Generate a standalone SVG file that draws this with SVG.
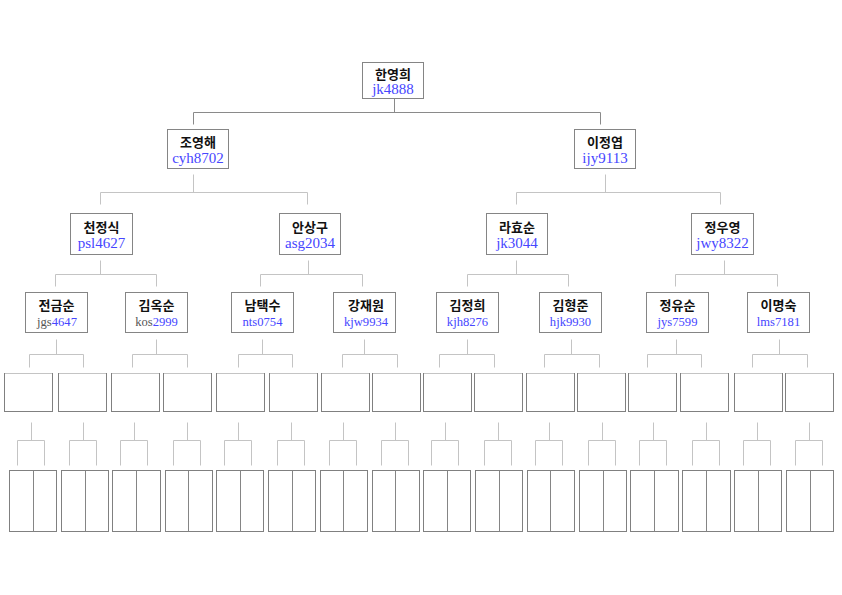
<svg xmlns="http://www.w3.org/2000/svg" width="842" height="595" viewBox="0 0 842 595">
<style>
.bg{fill:#ffffff}
.box{fill:#ffffff;stroke:#858585;stroke-width:1}
.ebox{fill:#ffffff;stroke:#808080;stroke-width:1}
.etop{stroke:#c4c4c4;stroke-width:1}
.div{stroke:#858585;stroke-width:1}
.c1{fill:none;stroke:#8a8a8a;stroke-width:1}
.c2{fill:none;stroke:#c4c4c4;stroke-width:1}
.nm{font-family:"Noto Sans CJK KR","Noto Sans",sans-serif;font-weight:bold;font-size:13px;fill:#111111;text-anchor:middle}
.id{font-family:"Liberation Serif","Times New Roman",serif;font-size:15px;fill:#4646ff;text-anchor:middle}
.id4{font-family:"Liberation Serif","Times New Roman",serif;font-size:12.6px;fill:#4646ff;text-anchor:middle}
.gr{fill:#555555}
</style>
<rect class="bg" x="0" y="0" width="842" height="595"/>
<g id="connectors">
<path class="c1" d="M394.5 98.5V112.5M193.5 112.5H600.5M193.5 112.5V124.5M600.5 112.5V124.5"/>
<path class="c2" d="M193.5 174.5V192.5M100.5 192.5H307.5M100.5 192.5V204.5M307.5 192.5V204.5"/>
<path class="c2" d="M605.5 174.5V192.5M516.5 192.5H720.5M516.5 192.5V204.5M720.5 192.5V204.5"/>
<path class="c2" d="M100.5 260.5V274.5M55.5 274.5H156.5M55.5 274.5V286.5M156.5 274.5V286.5"/>
<path class="c2" d="M308.5 260.5V274.5M260.5 274.5H362.5M260.5 274.5V286.5M362.5 274.5V286.5"/>
<path class="c2" d="M516.5 260.5V274.5M467.5 274.5H568.5M467.5 274.5V286.5M568.5 274.5V286.5"/>
<path class="c2" d="M724.5 260.5V274.5M675.5 274.5H777.5M675.5 274.5V286.5M777.5 274.5V286.5"/>
<path class="c2" d="M56.5 339.5V354.5M29.5 354.5H83.5M29.5 354.5V367.5M83.5 354.5V367.5"/>
<path class="c2" d="M156.5 339.5V354.5M132.5 354.5H187.5M132.5 354.5V367.5M187.5 354.5V367.5"/>
<path class="c2" d="M262.5 339.5V354.5M238.5 354.5H292.5M238.5 354.5V367.5M292.5 354.5V367.5"/>
<path class="c2" d="M364.5 339.5V354.5M342.5 354.5H397.5M342.5 354.5V367.5M397.5 354.5V367.5"/>
<path class="c2" d="M467.5 339.5V354.5M439.5 354.5H494.5M439.5 354.5V367.5M494.5 354.5V367.5"/>
<path class="c2" d="M571.5 339.5V354.5M544.5 354.5H599.5M544.5 354.5V367.5M599.5 354.5V367.5"/>
<path class="c2" d="M676.5 339.5V354.5M647.5 354.5H701.5M647.5 354.5V367.5M701.5 354.5V367.5"/>
<path class="c2" d="M779.5 339.5V354.5M752.5 354.5H807.5M752.5 354.5V367.5M807.5 354.5V367.5"/>
<path class="c2" d="M31.5 422.5V440.5M17.5 440.5H44.5M17.5 440.5V465.5M44.5 440.5V465.5"/>
<path class="c2" d="M83.5 422.5V440.5M69.5 440.5H96.5M69.5 440.5V465.5M96.5 440.5V465.5"/>
<path class="c2" d="M134.5 422.5V440.5M120.5 440.5H147.5M120.5 440.5V465.5M147.5 440.5V465.5"/>
<path class="c2" d="M187.5 422.5V440.5M173.5 440.5H200.5M173.5 440.5V465.5M200.5 440.5V465.5"/>
<path class="c2" d="M238.5 422.5V440.5M224.5 440.5H251.5M224.5 440.5V465.5M251.5 440.5V465.5"/>
<path class="c2" d="M291.5 422.5V440.5M277.5 440.5H304.5M277.5 440.5V465.5M304.5 440.5V465.5"/>
<path class="c2" d="M343.5 422.5V440.5M329.5 440.5H356.5M329.5 440.5V465.5M356.5 440.5V465.5"/>
<path class="c2" d="M395.5 422.5V440.5M381.5 440.5H408.5M381.5 440.5V465.5M408.5 440.5V465.5"/>
<path class="c2" d="M445.5 422.5V440.5M431.5 440.5H458.5M431.5 440.5V465.5M458.5 440.5V465.5"/>
<path class="c2" d="M498.5 422.5V440.5M484.5 440.5H511.5M484.5 440.5V465.5M511.5 440.5V465.5"/>
<path class="c2" d="M549.5 422.5V440.5M535.5 440.5H562.5M535.5 440.5V465.5M562.5 440.5V465.5"/>
<path class="c2" d="M602.5 422.5V440.5M588.5 440.5H615.5M588.5 440.5V465.5M615.5 440.5V465.5"/>
<path class="c2" d="M653.5 422.5V440.5M639.5 440.5H666.5M639.5 440.5V465.5M666.5 440.5V465.5"/>
<path class="c2" d="M706.5 422.5V440.5M692.5 440.5H719.5M692.5 440.5V465.5M719.5 440.5V465.5"/>
<path class="c2" d="M757.5 422.5V440.5M743.5 440.5H770.5M743.5 440.5V465.5M770.5 440.5V465.5"/>
<path class="c2" d="M809.5 422.5V440.5M795.5 440.5H822.5M795.5 440.5V465.5M822.5 440.5V465.5"/>
</g>
<g id="n-hanyounghee"><rect class="box" x="362.5" y="62.5" width="61" height="36"/><text class="nm" x="393" y="78.5">한영희</text><text class="id" x="393" y="94">jk4888</text></g>
<g id="n-joyounghae"><rect class="box" x="167.5" y="129.5" width="61" height="39"/><text class="nm" x="198" y="147">조영해</text><text class="id" x="198" y="163">cyh8702</text></g>
<g id="n-leejeongyeop"><rect class="box" x="574.5" y="129.5" width="61" height="39"/><text class="nm" x="605" y="147">이정엽</text><text class="id" x="605" y="163">ijy9113</text></g>
<g id="n-cheonjeongsik"><rect class="box" x="70.5" y="213.5" width="62" height="41"/><text class="nm" x="101.5" y="232">천정식</text><text class="id" x="101.5" y="248">psl4627</text></g>
<g id="n-ansanggu"><rect class="box" x="279.5" y="213.5" width="61" height="41"/><text class="nm" x="310" y="232">안상구</text><text class="id" x="310" y="248">asg2034</text></g>
<g id="n-rahyosun"><rect class="box" x="486.5" y="213.5" width="61" height="41"/><text class="nm" x="517" y="232">라효순</text><text class="id" x="517" y="248">jk3044</text></g>
<g id="n-jeonguyoung"><rect class="box" x="691.5" y="213.5" width="62" height="41"/><text class="nm" x="722.5" y="232">정우영</text><text class="id" x="722.5" y="248">jwy8322</text></g>
<g id="n-jeongeumsun"><rect class="box" x="25.5" y="292.5" width="62" height="40"/><text class="nm" x="56.5" y="310">전금순</text><text class="id4" x="57" y="326"><tspan class="gr">jgs</tspan>4647</text></g>
<g id="n-kimoksun"><rect class="box" x="125.5" y="292.5" width="62" height="40"/><text class="nm" x="156.5" y="310">김옥순</text><text class="id4" x="156.5" y="326"><tspan class="gr">kos</tspan>2999</text></g>
<g id="n-namtaeksu"><rect class="box" x="231.5" y="292.5" width="62" height="40"/><text class="nm" x="262.5" y="310">남택수</text><text class="id4" x="262.5" y="326">nts0754</text></g>
<g id="n-kangjaewon"><rect class="box" x="333.5" y="292.5" width="62" height="40"/><text class="nm" x="366" y="310">강재원</text><text class="id4" x="366" y="326">kjw9934</text></g>
<g id="n-kimjeonghee"><rect class="box" x="436.5" y="292.5" width="62" height="40"/><text class="nm" x="467.5" y="310">김정희</text><text class="id4" x="467.5" y="326">kjh8276</text></g>
<g id="n-kimhyeongjun"><rect class="box" x="539.5" y="292.5" width="62" height="40"/><text class="nm" x="570.5" y="310">김형준</text><text class="id4" x="570.5" y="326">hjk9930</text></g>
<g id="n-jeongyusun"><rect class="box" x="646.5" y="292.5" width="62" height="40"/><text class="nm" x="677.5" y="310">정유순</text><text class="id4" x="677.5" y="326">jys7599</text></g>
<g id="n-leemyeongsuk"><rect class="box" x="747.5" y="292.5" width="62" height="40"/><text class="nm" x="778.5" y="310">이명숙</text><text class="id4" x="778.5" y="326">lms7181</text></g>
<g id="level5">
<g id="e5-1"><rect class="ebox" x="4.5" y="373.5" width="48" height="38"/><path class="etop" d="M5 373.5H52"/></g>
<g id="e5-2"><rect class="ebox" x="58.5" y="373.5" width="48" height="38"/><path class="etop" d="M59 373.5H106"/></g>
<g id="e5-3"><rect class="ebox" x="111.5" y="373.5" width="48" height="38"/><path class="etop" d="M112 373.5H159"/></g>
<g id="e5-4"><rect class="ebox" x="163.5" y="373.5" width="48" height="38"/><path class="etop" d="M164 373.5H211"/></g>
<g id="e5-5"><rect class="ebox" x="216.5" y="373.5" width="48" height="38"/><path class="etop" d="M217 373.5H264"/></g>
<g id="e5-6"><rect class="ebox" x="269.5" y="373.5" width="48" height="38"/><path class="etop" d="M270 373.5H317"/></g>
<g id="e5-7"><rect class="ebox" x="321.5" y="373.5" width="48" height="38"/><path class="etop" d="M322 373.5H369"/></g>
<g id="e5-8"><rect class="ebox" x="372.5" y="373.5" width="48" height="38"/><path class="etop" d="M373 373.5H420"/></g>
<g id="e5-9"><rect class="ebox" x="423.5" y="373.5" width="48" height="38"/><path class="etop" d="M424 373.5H471"/></g>
<g id="e5-10"><rect class="ebox" x="474.5" y="373.5" width="48" height="38"/><path class="etop" d="M475 373.5H522"/></g>
<g id="e5-11"><rect class="ebox" x="526.5" y="373.5" width="48" height="38"/><path class="etop" d="M527 373.5H574"/></g>
<g id="e5-12"><rect class="ebox" x="577.5" y="373.5" width="48" height="38"/><path class="etop" d="M578 373.5H625"/></g>
<g id="e5-13"><rect class="ebox" x="628.5" y="373.5" width="48" height="38"/><path class="etop" d="M629 373.5H676"/></g>
<g id="e5-14"><rect class="ebox" x="680.5" y="373.5" width="48" height="38"/><path class="etop" d="M681 373.5H728"/></g>
<g id="e5-15"><rect class="ebox" x="734.5" y="373.5" width="48" height="38"/><path class="etop" d="M735 373.5H782"/></g>
<g id="e5-16"><rect class="ebox" x="785.5" y="373.5" width="48" height="38"/><path class="etop" d="M786 373.5H833"/></g>
</g>
<g id="level6">
<g id="e6-1"><rect class="ebox" x="9.5" y="470.5" width="47" height="61"/><path class="div" d="M33.5 470.5V531.5"/></g>
<g id="e6-2"><rect class="ebox" x="61.5" y="470.5" width="47" height="61"/><path class="div" d="M85.5 470.5V531.5"/></g>
<g id="e6-3"><rect class="ebox" x="112.5" y="470.5" width="48" height="61"/><path class="div" d="M136.5 470.5V531.5"/></g>
<g id="e6-4"><rect class="ebox" x="165.5" y="470.5" width="47" height="61"/><path class="div" d="M188.5 470.5V531.5"/></g>
<g id="e6-5"><rect class="ebox" x="216.5" y="470.5" width="47" height="61"/><path class="div" d="M240.5 470.5V531.5"/></g>
<g id="e6-6"><rect class="ebox" x="268.5" y="470.5" width="47" height="61"/><path class="div" d="M292.5 470.5V531.5"/></g>
<g id="e6-7"><rect class="ebox" x="320.5" y="470.5" width="47" height="61"/><path class="div" d="M343.5 470.5V531.5"/></g>
<g id="e6-8"><rect class="ebox" x="372.5" y="470.5" width="47" height="61"/><path class="div" d="M395.5 470.5V531.5"/></g>
<g id="e6-9"><rect class="ebox" x="423.5" y="470.5" width="47" height="61"/><path class="div" d="M447.5 470.5V531.5"/></g>
<g id="e6-10"><rect class="ebox" x="475.5" y="470.5" width="47" height="61"/><path class="div" d="M499.5 470.5V531.5"/></g>
<g id="e6-11"><rect class="ebox" x="527.5" y="470.5" width="47" height="61"/><path class="div" d="M550.5 470.5V531.5"/></g>
<g id="e6-12"><rect class="ebox" x="579.5" y="470.5" width="47" height="61"/><path class="div" d="M603.5 470.5V531.5"/></g>
<g id="e6-13"><rect class="ebox" x="630.5" y="470.5" width="48" height="61"/><path class="div" d="M654.5 470.5V531.5"/></g>
<g id="e6-14"><rect class="ebox" x="682.5" y="470.5" width="48" height="61"/><path class="div" d="M706.5 470.5V531.5"/></g>
<g id="e6-15"><rect class="ebox" x="734.5" y="470.5" width="47" height="61"/><path class="div" d="M758.5 470.5V531.5"/></g>
<g id="e6-16"><rect class="ebox" x="786.5" y="470.5" width="47" height="61"/><path class="div" d="M810.5 470.5V531.5"/></g>
</g>
</svg>
